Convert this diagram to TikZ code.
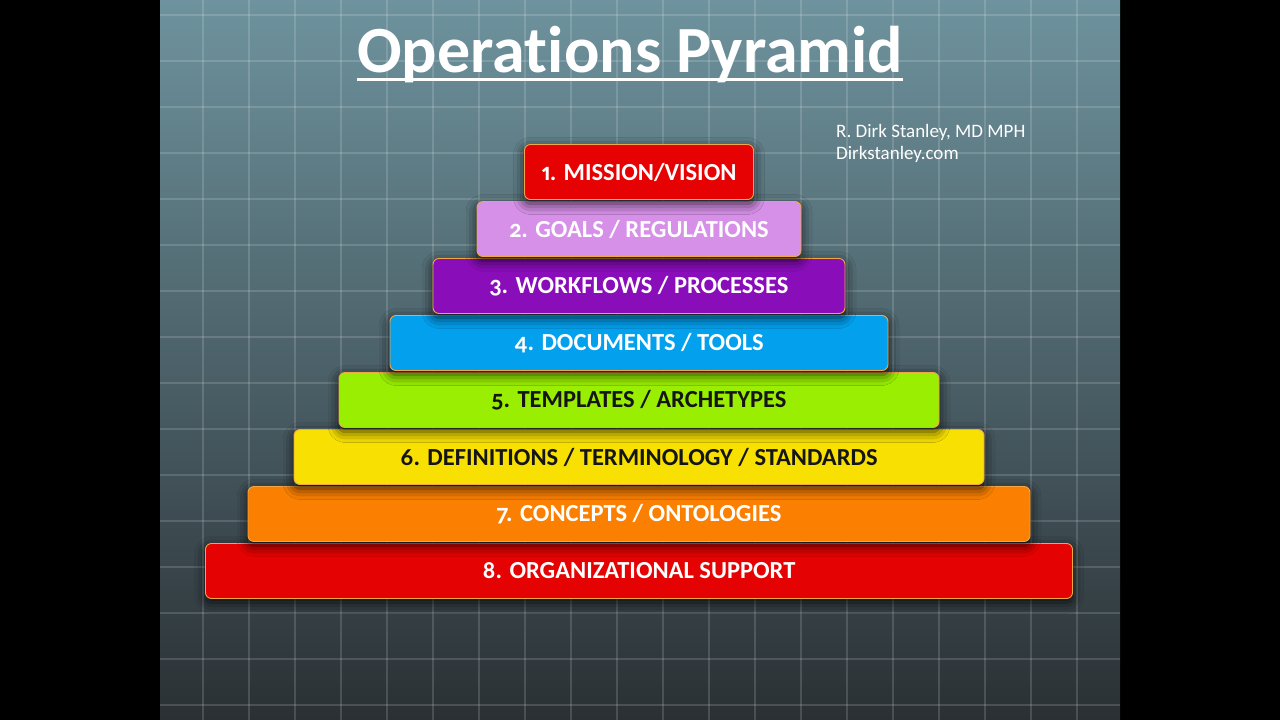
\documentclass[tikz,border=0pt]{standalone}
\usepackage{fontspec}
\setmainfont{Carlito}[Numbers = {OldStyle, Proportional},
    RawFeature = {-liga;-clig;-dlig;-calt}]
\usetikzlibrary{positioning, shadows.blur}

\definecolor{slidetop}{HTML}{6E939E}
\definecolor{slidemid}{HTML}{4A5C63}
\definecolor{slidebottom}{HTML}{2A3034}
\definecolor{barrim}{HTML}{F2A644}
\definecolor{missionred}{HTML}{E60202}
\definecolor{goalpink}{HTML}{D690E8}
\definecolor{flowpurple}{HTML}{8A0DBA}
\definecolor{docblue}{HTML}{03A0EE}
\definecolor{templgreen}{HTML}{99EE02}
\definecolor{defyellow}{HTML}{F7E002}
\definecolor{concorange}{HTML}{FB8002}
\definecolor{orgred}{HTML}{E50202}
\definecolor{darktext}{HTML}{151515}

\begin{document}
\begin{tikzpicture}[
        x = 1pt, y = -1pt, % one unit is one pixel, y runs down
        node distance = 1.1pt, % gap between the layers
        gridline/.style = {white, opacity = 0.15, line width = 1.1pt},
        bar/.style = {draw = barrim, line width = 0.9pt, rounded corners = 6pt,
            minimum height = 55pt, inner sep = 0pt, text = white,
            font = \fontsize{24.5}{26}\selectfont\bfseries,
            blur shadow = {shadow xshift = 0pt, shadow yshift = -4pt,
                shadow blur radius = 11pt, shadow opacity = 80}}
    ]

    \useasboundingbox (0,0) rectangle (1280,720);
    \fill[black] (0,0) rectangle (1280,720);
    \shade[top color = slidetop, middle color = slidemid,
        bottom color = slidebottom] (160,0) rectangle (1120,720);

    % the grid on the slide
    \foreach \gx in {203,249,...,1077} \draw[gridline] (\gx,0) -- (\gx,720);
    \foreach \gy in {15,61,...,705} \draw[gridline] (160,\gy) -- (1120,\gy);

    \node[inner sep = 0pt, anchor = base, text = white,
        font = \fontsize{66}{72}\selectfont\bfseries] (title) at (630,72)
        {Opera\kern0pt tions Pyramid};
    \draw[white, line width = 3pt] ([yshift = -7pt]title.base west) --
        ([yshift = -7pt]title.base east);

    \node[anchor = north west, align = left, inner sep = 0pt, text = white,
        font = \fontsize{19}{22}\selectfont] (author) at (836,124)
        {R. Dirk Stanley, MD MPH\\Dirkstanley.com};

    % layers, drawn from the bottom up
    \node[bar, fill = orgred, minimum width = 867pt] (org) at (639,571)
        {8. ORGANIZATIONAL SUPPORT};
    \node[bar, fill = concorange, minimum width = 782pt, above = of org]
        (concepts) {7. CONCEPTS / ONTOLOGIES};
    \node[bar, fill = defyellow, text = darktext, minimum width = 690pt,
        above = of concepts] (defs) {6. DEFINITIONS / TERMINOLOGY / STANDARDS};
    \node[bar, fill = templgreen, text = darktext, minimum width = 600pt,
        above = of defs] (templ) {5. TEMPLATES / ARCHETYPES};
    \node[bar, fill = docblue, minimum width = 498pt, above = of templ]
        (docs) {4. DOCUMENTS / TOOLS};
    \node[bar, fill = flowpurple, minimum width = 412pt, above = of docs]
        (flows) {3. WORKFLOWS / PROCESSES};
    \node[bar, fill = goalpink, minimum width = 324pt, above = of flows]
        (goals) {2. GOALS / REGULATIONS};
    \node[bar, fill = missionred, minimum width = 229pt, above = of goals]
        (mission) {1. MISSION/VISION};

\end{tikzpicture}
\end{document}
